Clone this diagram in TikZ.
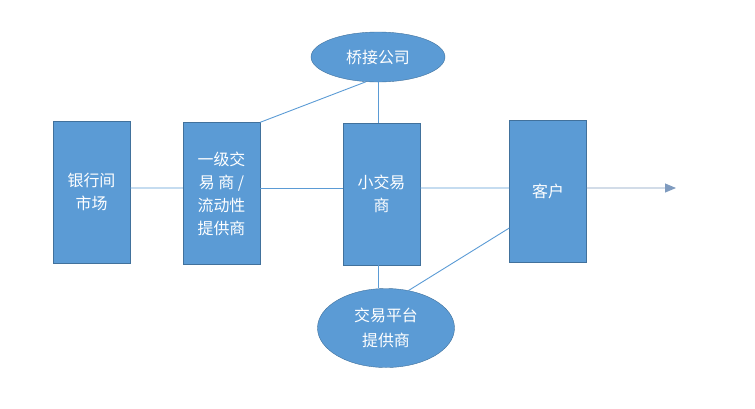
\documentclass[tikz,border=0pt]{standalone}
\usepackage{fontspec}
\setmainfont{Noto Sans CJK SC}
\usetikzlibrary{shapes.geometric,arrows.meta}
\definecolor{boxblue}{HTML}{5B9BD5}
\definecolor{boxedge}{HTML}{41719C}
\definecolor{linkblue}{HTML}{5B9BD5}
\definecolor{arrowgrey}{HTML}{7F9BBF}
\begin{document}
\begin{tikzpicture}[x=1bp, y=-1bp,
        box/.style={rectangle, draw=boxedge, fill=boxblue, text=white, align=center,
            minimum width=77bp, minimum height=142bp, inner sep=0pt,
            font=\fontsize{16}{23}\selectfont},
        oval/.style={ellipse, draw=boxedge, fill=boxblue, text=white, align=center,
            inner sep=0pt, font=\fontsize{16}{25}\selectfont},
        link/.style={draw=linkblue, line width=0.9bp}]
        \useasboundingbox (0,0) rectangle (755,408);
        \node[box] (bank) at (91.5,192) {银行间\\市场};
        \node[box] (dealer) at (221.5,193.5) {一级交\\易\ 商\ /\\流动性\\提供商};
        \node[box] (small) at (381.5,194) {小交易\\商};
        \node[box] (client) at (548,191) {客户};
        \node[oval, minimum width=134bp, minimum height=50bp] (bridge) at (378,57) {桥接公司};
        \node[oval, minimum width=137bp, minimum height=79bp] (platform) at (386,328) {交易平台\\提供商};
        \coordinate (out) at (676,188);

        \draw[link] ([yshift=4bp]bank.east) -- ([yshift=5.5bp]dealer.west);
        \draw[link] ([yshift=5.5bp]dealer.east) -- ([yshift=6bp]small.west);
        \draw[link] ([yshift=6bp]small.east) -- ([yshift=3bp]client.west);
        \draw[draw=arrowgrey, line width=0.9bp, -{Triangle[length=11bp, width=9bp]}] ([yshift=3bp]client.east) -- (out);
        \draw[link] (dealer.north east) -- (bridge.244);
        \draw[link] (bridge.south) -- (bridge.south |- small.north);
        \draw[link] (bridge.south |- small.south) -- (bridge.south |- platform.north);
        \draw[link] ([yshift=-37bp]client.west) -- (platform.59);
    \end{tikzpicture}
\end{document}
